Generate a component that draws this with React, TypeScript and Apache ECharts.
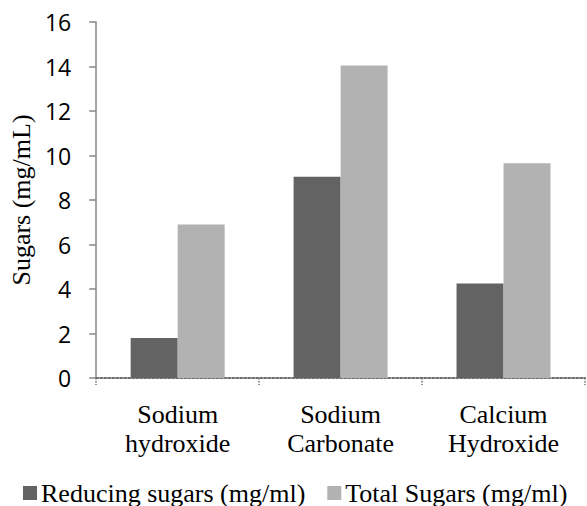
import React, { useEffect, useRef } from "react";
import * as echarts from "echarts";

const categories = ["Sodium\nhydroxide", "Sodium\nCarbonate", "Calcium\nHydroxide"];
const reducingSugars = [1.8, 9.05, 4.25];
const totalSugars = [6.9, 14.05, 9.65];
const seriesNames = ["Reducing sugars (mg/ml)", "Total Sugars (mg/ml)"];
const yAxisTitle = "Sugars (mg/mL)";

const SERIF = "Liberation Serif, Times New Roman, serif";
const SANS = "Open Sans";

export default function App() {
  const ref = useRef<HTMLDivElement>(null);
  useEffect(() => {
    if (!ref.current) return;
    const chart = echarts.init(ref.current, undefined, { renderer: "svg" });
    chart.setOption({
      animation: false,
      backgroundColor: "#ffffff",
      grid: { left: 94, right: 2, top: 22, bottom: 128, containLabel: false },
      legend: {
        data: seriesNames,
        left: 23,
        top: 480,
        padding: 0,
        icon: "rect",
        itemWidth: 14,
        itemHeight: 14,
        itemGap: 22,
        textStyle: { fontFamily: SERIF, fontSize: 26, color: "#000", padding: [0, 0, 0, -1] },
      },
      xAxis: {
        type: "category",
        data: categories,
        axisLine: { lineStyle: { color: "#6e6e6e", width: 2, type: "dotted" } },
        axisTick: { show: true, length: 7, lineStyle: { color: "#6e6e6e", width: 1.5, type: "dotted" } },
        axisLabel: {
          fontFamily: SERIF,
          fontSize: 26,
          color: "#000",
          lineHeight: 29,
          margin: 22,
          interval: 0,
        },
        splitLine: { show: false },
      },
      yAxis: {
        type: "value",
        min: 0,
        max: 16,
        interval: 2,
        name: yAxisTitle,
        nameLocation: "middle",
        nameGap: 58,
        nameTextStyle: { fontFamily: SERIF, fontSize: 26, color: "#000" },
        axisLine: { show: true, lineStyle: { color: "#878787", width: 1.5 } },
        axisTick: { show: true, length: 7, lineStyle: { color: "#878787", width: 1.5 } },
        axisLabel: { fontFamily: SANS, fontSize: 23, color: "#000", margin: 25 },
        splitLine: { show: false },
      },
      series: [
        {
          name: seriesNames[0],
          type: "bar",
          data: reducingSugars,
          barWidth: 47,
          barGap: "0%",
          itemStyle: { color: "#636363" },
        },
        {
          name: seriesNames[1],
          type: "bar",
          data: totalSugars,
          barWidth: 47,
          barGap: "0%",
          itemStyle: { color: "#b2b2b2" },
        },
      ],
    });
    return () => chart.dispose();
  }, []);
  return <div ref={ref} style={{ width: 587, height: 506, position: "absolute", left: 0, top: 0 }} />;
}
